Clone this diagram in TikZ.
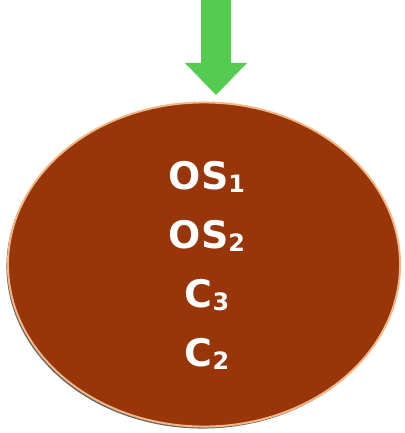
\documentclass[tikz,border=0pt]{standalone}
\usepackage{fontspec}
\setmainfont{DejaVu Sans}
\usetikzlibrary{shapes.geometric}
\definecolor{rust}{HTML}{983509}
\definecolor{peach}{HTML}{F2B785}
\definecolor{leaf}{HTML}{55CC4F}
\newcommand{\idx}[1]{\raisebox{-0.1em}{\fontsize{17}{17}\selectfont #1}}
\begin{document}
\begin{tikzpicture}
[x=0.025cm, y=-0.025cm,
disc/.style={ellipse, fill=rust, draw=peach, line width=1.4pt, inner sep=0pt, minimum width=9.8cm, minimum height=8.1cm},
discshadow/.style={ellipse, fill=gray!80!black, inner sep=0pt, minimum width=9.8cm, minimum height=8.1cm},
label/.style={anchor=base, text=white, font=\fontsize{27}{27}\selectfont\bfseries}]

\useasboundingbox (0,0) rectangle (405,433);

\node[discshadow] (shade) at (202.5,266.5) {};
\node[disc] (disc) at (204,264.5) {};

\fill[leaf] (201,0) -- (231,0) -- (231,63) -- (247,63) -- (216,95) -- (185,63) -- (201,63) -- cycle;

\node[label] (os1) at (207,189) {OS\idx{1}};
\node[label] (os2) at (207,248) {OS\idx{2}};
\node[label] (c3) at (207,307) {C\idx{3}};
\node[label] (c2) at (207,366) {C\idx{2}};
\end{tikzpicture}
\end{document}
